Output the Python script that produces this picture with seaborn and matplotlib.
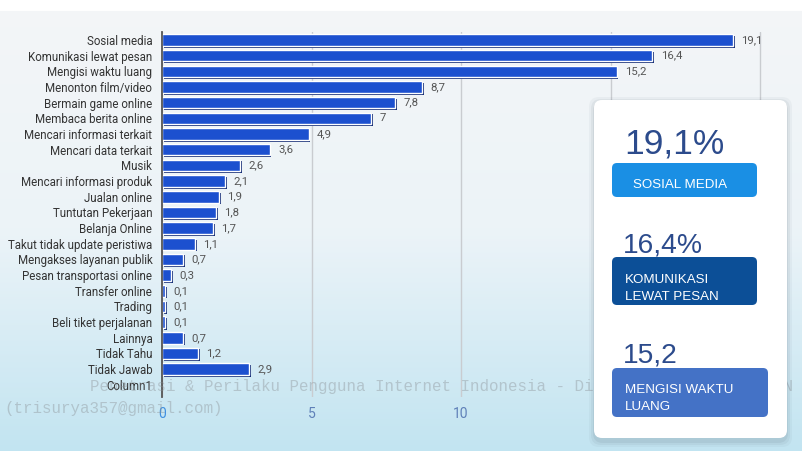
import numpy as np
import pandas as pd
import matplotlib
matplotlib.use("Agg")
import matplotlib.pyplot as plt
import seaborn as sns
from matplotlib.patches import FancyBboxPatch
import matplotlib.patheffects as pe

# ---------------- data ----------------
categories = [
    "Sosial media", "Komunikasi lewat pesan", "Mengisi waktu luang",
    "Menonton film/video", "Bermain game online", "Membaca berita online",
    "Mencari informasi terkait", "Mencari data terkait", "Musik",
    "Mencari informasi produk", "Jualan online", "Tuntutan Pekerjaan",
    "Belanja Online", "Takut tidak update peristiwa", "Mengakses layanan publik",
    "Pesan transportasi online", "Transfer online", "Trading",
    "Beli tiket perjalanan", "Lainnya", "Tidak Tahu", "Tidak Jawab", "Column1",
]
values = [19.1, 16.4, 15.2, 8.7, 7.8, 7.0, 4.9, 3.6, 2.6, 2.1, 1.9, 1.8,
          1.7, 1.1, 0.7, 0.3, 0.1, 0.1, 0.1, 0.7, 1.2, 2.9, np.nan]
x_ticks = [0, 5, 10, 15, 20]
x_tick_labels = ["0", "5", "10", "15", "20"]

highlight_values = ["19,1%", "16,4%", "15,2"]
highlight_labels = ["SOSIAL MEDIA", "KOMUNIKASI\nLEWAT PESAN", "MENGISI WAKTU\nLUANG"]

watermark_line1 = "Penetrasi & Perilaku Pengguna Internet Indonesia - Diunduh oleh Trisurya N"
watermark_line2 = "(trisurya357@gmail.com)"

# ---------------- style ----------------
sns.set_theme(style="white")
plt.rcParams['font.family'] = ['Roboto', 'DejaVu Sans']

W, H = 803, 451
fig = plt.figure(figsize=(W / 100, H / 100), dpi=100)

# background gradient
ax_bg = fig.add_axes([0, 0, 1, 1], zorder=-10)
rows = np.arange(H)
top = np.array([0.955, 0.962, 0.970])
mid = np.array([0.925, 0.955, 0.972])
bot = np.array([0.760, 0.895, 0.945])
t = np.clip((rows - 11) / (H - 11), 0, 1)[:, None]
col = np.where(t < 0.5, top + (mid - top) * (t / 0.5), mid + (bot - mid) * ((t - 0.5) / 0.5))
col[rows < 11] = 1.0
img = np.repeat(col[:, None, :], 4, axis=1)
ax_bg.imshow(img, aspect='auto', extent=[0, 1, 0, 1], interpolation='bilinear')
ax_bg.axis('off')

# main chart axes
x0, y_top, y_bot, x_right = 162, 32, 397, 790
ax = fig.add_axes([x0 / W, 1 - y_bot / H, (x_right - x0) / W, (y_bot - y_top) / H])
ax.patch.set_alpha(0)

df = pd.DataFrame({"kategori": categories, "nilai": values})
sns.barplot(data=df, x="nilai", y="kategori", order=categories, orient="h",
            color="#1c50cf", saturation=1, width=0.74, ax=ax, zorder=3)
for p in ax.patches:
    p.set_path_effects([pe.SimplePatchShadow(offset=(1.3, -1.3), shadow_rgbFace="#0a2370", alpha=0.95),
                        pe.Normal()])

for i, v in enumerate(values):
    if np.isnan(v):
        continue
    lbl = f"{v:g}".replace(".", ",")
    ax.annotate(lbl, xy=(v, i), xytext=(6, 0), textcoords="offset points",
                va="center", ha="left", fontsize=8.2, color="#555555", zorder=4)

ax.set_xlim(0, 21)
ax.set_ylim(22.78, -0.51)
ax.set_xticks(x_ticks)
ax.set_xticklabels(x_tick_labels)
ax.set_xlabel("")
ax.set_ylabel("")
ax.grid(axis="x", color="#c9ccd0", linewidth=1.0, zorder=0)
ax.grid(axis="y", visible=False)
for s in ["top", "right", "bottom"]:
    ax.spines[s].set_visible(False)
ax.spines["left"].set_color("#555555")
ax.spines["left"].set_linewidth(1.3)
ax.spines["left"].set_zorder(5)
ax.tick_params(axis="y", length=0, pad=7, labelsize=8.3, labelcolor="#333333")
ax.tick_params(axis="x", length=0, pad=7, labelsize=10)
for lab, c in zip(ax.get_xticklabels(), ["#3f8fe0", "#5f80b8", "#5f80b8", "#5f80b8", "#5f80b8"]):
    lab.set_color(c)

# overlay in pixel coordinates
ov = fig.add_axes([0, 0, 1, 1], zorder=20)
ov.set_xlim(0, W)
ov.set_ylim(H, 0)
ov.axis('off')
ov.patch.set_alpha(0)

mono = ['Liberation Mono', 'DejaVu Sans Mono']
ov.text(90, 386, watermark_line1, family=mono, fontsize=11.4, color="#8a8f94",
        alpha=0.4, va="center", ha="left", zorder=1)
ov.text(4, 408, watermark_line2, family=mono, fontsize=11.4, color="#8a8f94",
        alpha=0.4, va="center", ha="left", zorder=1)

# panel shadow + panel
for k, a in zip([7, 5, 3], [0.05, 0.07, 0.09]):
    ov.add_patch(FancyBboxPatch((594 - k + 2, 100 - k + 4), 193 + 2 * k - 4, 338 + 2 * k - 2,
                                boxstyle="round,pad=0,rounding_size=10",
                                fc="#50606e", ec="none", alpha=a, zorder=2))
ov.add_patch(FancyBboxPatch((594, 100), 193, 338, boxstyle="round,pad=0,rounding_size=8",
                            fc="white", ec="none", zorder=3))

num_font = ['Liberation Sans', 'DejaVu Sans']
lab_font = ['Liberation Sans', 'DejaVu Sans']
num_specs = [(624, 153, 25.5), (623, 252, 20.3), (623, 362, 20.3)]
box_specs = [((612, 163), 145, 34, "#1a8fe4"),
             ((612, 257), 145, 48, "#0c4f97"),
             ((612, 368), 156, 49, "#4472c6")]
# (x, y of top line's baseline)
lab_specs = [(633, 188), (625, 283), (625, 393)]

for val, (nx, ny, fs) in zip(highlight_values, num_specs):
    ov.text(nx, ny, val, family=num_font, fontsize=fs, color="#2c4b8c",
            va="baseline", ha="left", zorder=5)
for (xy, w, h, c) in box_specs:
    ov.add_patch(FancyBboxPatch(xy, w, h, boxstyle="round,pad=0,rounding_size=5",
                                fc=c, ec="none", zorder=4))
for txt, (lx, ly) in zip(highlight_labels, lab_specs):
    for j, line in enumerate(txt.split("\n")):
        ov.text(lx, ly + j * 17.5, line, family=lab_font, fontsize=9.6, color="white",
                va="baseline", ha="left", zorder=5)

fig.savefig("out.png", dpi=100)
